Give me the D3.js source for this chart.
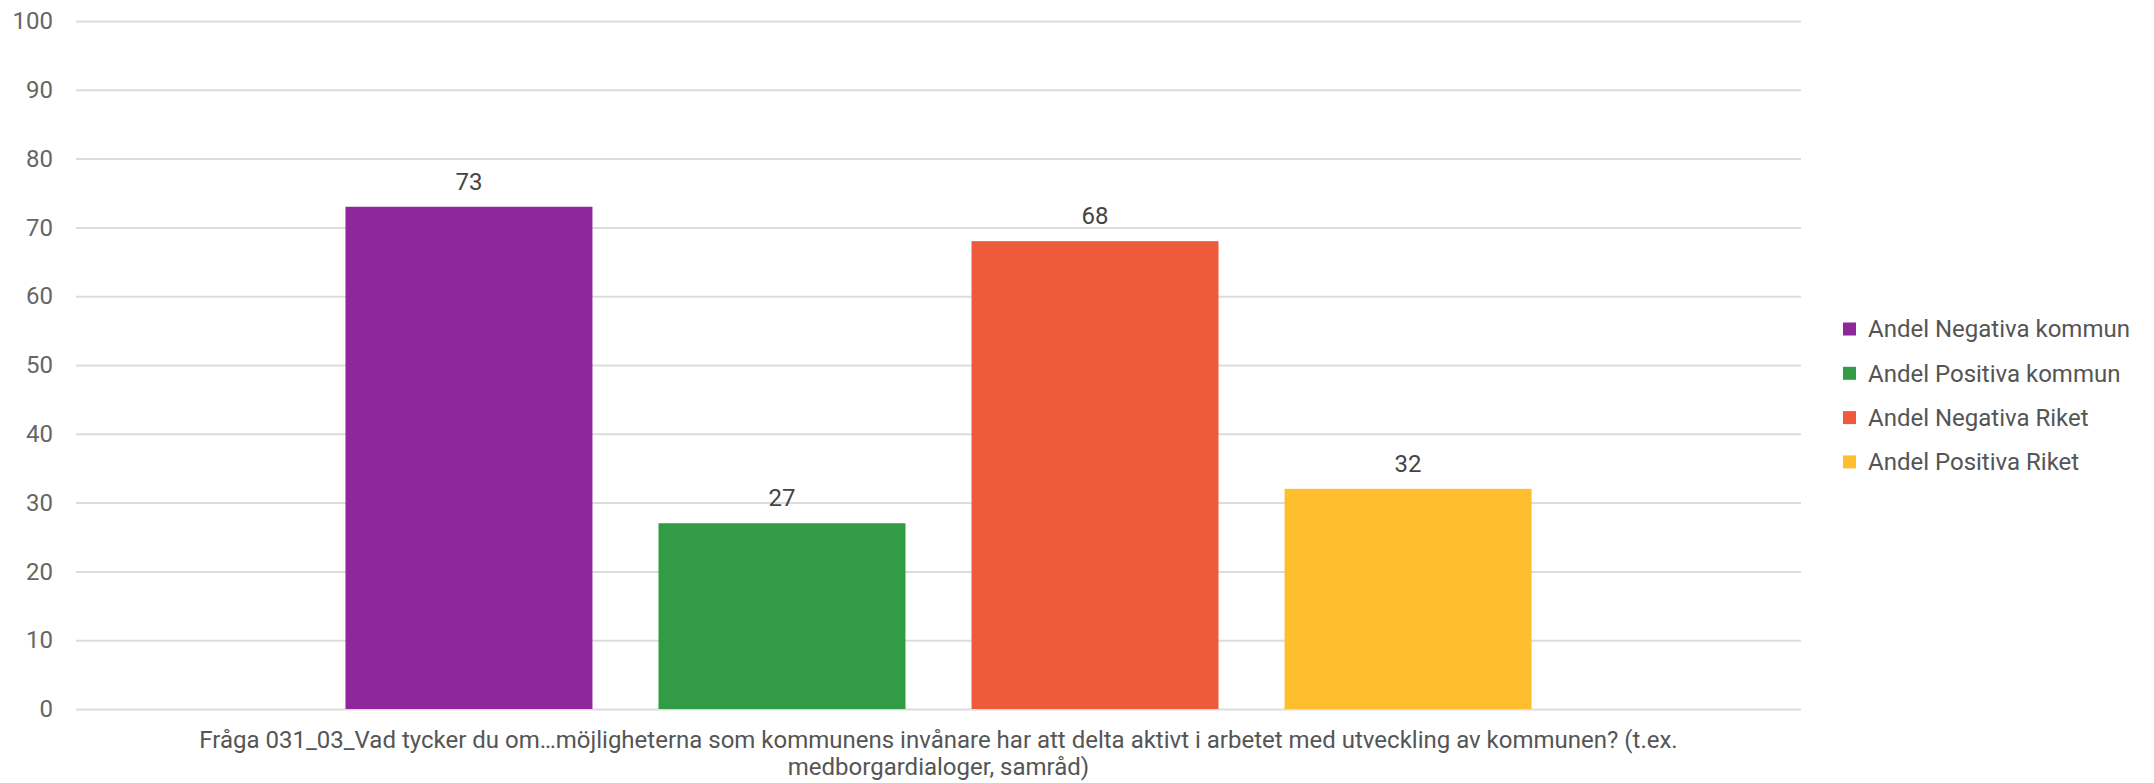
<!DOCTYPE html>
<html><head><meta charset="utf-8">
<script src="https://cdn.jsdelivr.net/npm/d3@7"></script>
<style>body{margin:0;background:#fff}svg{display:block;font-family:Roboto,"Noto Sans",sans-serif}</style>
</head><body>
<svg id="c" width="2154" height="783"></svg>
<script>
const categories = ["Fråga 031_03_Vad tycker du om…möjligheterna som kommunens invånare har att delta aktivt i arbetet med utveckling av kommunen? (t.ex. medborgardialoger, samråd)"];
const seriesNames = ["Andel Negativa kommun","Andel Positiva kommun","Andel Negativa Riket","Andel Positiva Riket"];
const seriesValues = [73, 27, 68, 32];
const seriesColors = ["#8e279a","#329b46","#ef5a3c","#ffbe2e"];
const yTicks = [0,10,20,30,40,50,60,70,80,90,100];

const svg = d3.select("#c");
const m = {left:76, right:2154-1801, top:21, bottom:783-709};
const W = 2154, H = 783;
const FS = "24px";
const x0 = d3.scaleBand().domain(categories).range([m.left, W-m.right]).paddingInner(0).paddingOuter(0.2272);
const x1 = d3.scaleBand().domain(seriesNames).range([0, x0.bandwidth()]).paddingInner(0.211).paddingOuter(0);
const y = d3.scaleLinear().domain([0,100]).range([H-m.bottom, m.top]);

// grid
const g = svg.append("g").attr("transform",`translate(${m.left},0)`);
const yAxis = d3.axisLeft(y).tickValues(yTicks).tickSize(-(W-m.left-m.right)).tickPadding(23);
g.call(yAxis);
g.select(".domain").remove();
g.selectAll(".tick line").attr("stroke","#dcdcdc").attr("stroke-width",2);
g.selectAll(".tick text").attr("fill","#666").style("font-size",FS).style("font-family","Roboto");

// bars
const bars = svg.append("g");
categories.forEach(cat => {
  seriesNames.forEach((s,i) => {
    const bx = x0(cat) + x1(s);
    bars.append("rect").attr("x", bx).attr("width", x1.bandwidth())
      .attr("y", y(seriesValues[i])).attr("height", y(0)-y(seriesValues[i]))
      .attr("fill", seriesColors[i]);
    bars.append("text").attr("x", bx + x1.bandwidth()/2).attr("y", y(seriesValues[i]) - 17)
      .attr("text-anchor","middle").attr("fill","#444").style("font-size",FS)
      .text(seriesValues[i]);
  });
});

// x category label with wrapping
categories.forEach(cat => {
  const t = svg.append("text").attr("x", x0(cat)+x0.bandwidth()/2).attr("y", 748)
    .attr("text-anchor","middle").attr("fill","#555").style("font-size",FS);
  const words = cat.split(" ");
  let line = [], lines = [];
  const maxW = 1560;
  const tmp = t.append("tspan");
  words.forEach(w => {
    line.push(w);
    tmp.text(line.join(" "));
    if (tmp.node().getComputedTextLength() > maxW && line.length > 1) {
      line.pop(); lines.push(line.join(" ")); line = [w];
    }
  });
  lines.push(line.join(" "));
  tmp.remove();
  lines.forEach((l,i) => t.append("tspan").attr("x", x0(cat)+x0.bandwidth()/2).attr("dy", i? 27 : 0).text(l));
});

// legend
const lg = svg.append("g").attr("transform","translate(1843,329)");
seriesNames.forEach((s,i) => {
  const r = lg.append("g").attr("transform",`translate(0,${i*44.3})`);
  r.append("rect").attr("x",0).attr("y",-6.5).attr("width",13).attr("height",13).attr("fill",seriesColors[i]);
  r.append("text").attr("x",25).attr("y",0).attr("dy","0.35em").attr("fill","#555").style("font-size",FS).text(s);
});
</script>
</body></html>
